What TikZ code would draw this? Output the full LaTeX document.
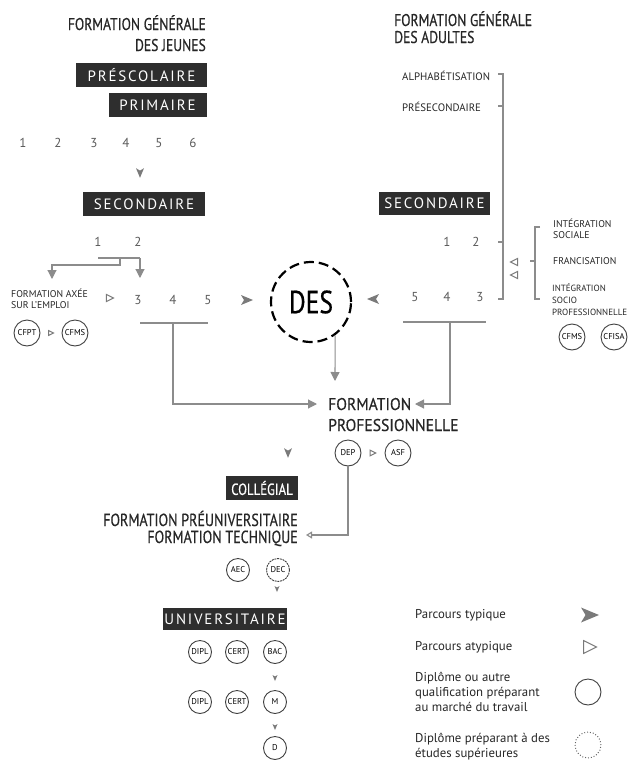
\documentclass[tikz,border=0pt]{standalone}
\usepackage{fontspec}
\setmainfont{PT Sans}
\newfontfamily\condfont[FakeStretch=0.8,FakeBold=0.5]{PT Sans}
\newfontfamily\proffont[FakeStretch=0.92,FakeBold=0.5]{PT Sans}
\newfontfamily\spacedfont[LetterSpace=12]{PT Sans}
\usetikzlibrary{arrows.meta}
\definecolor{boxgray}{HTML}{2E2E2E}
\definecolor{titlegray}{HTML}{262626}
\definecolor{numgray}{HTML}{5A5A5A}
\definecolor{linegray}{HTML}{8C8C8C}
\definecolor{arrowgray}{HTML}{7A7A7A}

\begin{document}
\begin{tikzpicture}[x=1pt,y=-1pt,
	level/.style={fill=boxgray,text=white,inner sep=0pt,font=\spacedfont\fontsize{15}{15}\selectfont},
	title/.style={font=\condfont\fontsize{17}{21}\selectfont,text=titlegray,inner sep=0pt},
	num/.style={font=\fontsize{13}{13}\selectfont,text=numgray,inner sep=0pt},
	small/.style={font=\fontsize{9.8}{11}\selectfont,text=titlegray,inner sep=0pt,align=left},
	legend/.style={font=\fontsize{12.8}{15}\selectfont,text=titlegray,inner sep=0pt,align=left},
	dip/.style={circle,draw=black!75,line width=0.9pt,minimum size=26pt,inner sep=0pt,font=\fontsize{8.5}{8.5}\selectfont},
	link/.style={draw=linegray,line width=1.1pt},
	typtip/.style={-{Triangle[length=9pt,width=9pt]}},
	opentip/.style={-{Triangle[open,length=6pt,width=7pt]}},
	typ/.pic={\fill[arrowgray] (-6,-5) -- (6,0) -- (-6,5) -- (-3,0) -- cycle;},
	atyp/.pic={\draw[arrowgray,line width=1pt,line join=miter] (-4,-4) -- (4,0) -- (-4,4) -- cycle;}
]
	\useasboundingbox (0,0) rectangle (628,766);

	% jeunes
	\node[title,align=right,anchor=base east] (jeunes) at (206,51) {FORMATION GÉNÉRALE\\DES JEUNES};
	\node[level,minimum width=131pt,minimum height=24pt] (presco) at (141.5,75) {PRÉSCOLAIRE};
	\node[level,minimum width=98pt,minimum height=24pt] (prim) at (157.5,105) {PRIMAIRE};
	\foreach \x [count=\i] in {23,58,94,126,159,193} {
		\node[num] (p\i) at (\x,143) {\i};
	}
	\pic[rotate=-90,scale=0.8] at (140,173) {typ};
	\node[level,minimum width=122pt,minimum height=24pt] (secj) at (144,204) {SECONDAIRE};
	\node[num] (sj1) at (98,242) {1};
	\node[num] (sj2) at (138,242) {2};
	\coordinate (bjl) at (98,258);
	\coordinate (bjm) at (120,258);
	\coordinate (bjr) at (140,258);
	\coordinate (in3) at (140,278);
	\coordinate (inaxe) at (52,279);
	\draw[link] (bjl) -- (bjr);
	\draw[link,typtip] (bjr) -- (in3);
	\draw[link,typtip] (bjm) -- (120,265) -| (inaxe);
	\node[small,anchor=base west] (axe) at (11,308) {FORMATION AXÉE\\SUR L'EMPLOI};
	\pic[scale=0.9] at (110,298) {atyp};
	\foreach \x [count=\i from 3] in {138,173,208} {
		\node[num] (sj\i) at (\x,300) {\i};
	}
	\node[dip] (cfpt) at (27,333) {CFPT};
	\node[dip] (cfmsj) at (75,333) {CFMS};
	\pic[scale=0.6] at (51,333) {atyp};

	% DES
	\pic at (247,300) {typ};
	\node[circle,draw=black,line width=2.2pt,dash pattern=on 10pt off 5pt,minimum size=80pt,inner sep=0pt,font=\condfont\fontsize{32}{32}\selectfont] (des) at (311,302) {DES};
	\pic[rotate=180] at (373,299) {typ};

	% adultes
	\node[title,align=left,anchor=base west,font=\condfont\fontsize{17}{17}\selectfont] (adultes) at (394,43) {FORMATION GÉNÉRALE\\DES ADULTES};
	\node[small,font=\fontsize{10.8}{12}\selectfont,anchor=west] (alpha) at (402,76) {ALPHABÉTISATION};
	\node[small,font=\fontsize{10.8}{12}\selectfont,anchor=west] (preseco) at (402,107) {PRÉSECONDAIRE};
	\coordinate (atop) at (498,74);
	\coordinate (abot) at (498,299);
	\draw[link,line width=1.6pt] (atop) -- (503,74) -- (503,299) -- (abot);
	\draw[link] (498,106) -- (503,106);
	\draw[link] (498,242) -- (503,242);
	\node[level,minimum width=111pt,minimum height=23pt] (seca) at (434.5,203.5) {SECONDAIRE};
	\node[num] (sa1) at (447,242) {1};
	\node[num] (sa2) at (476,242) {2};
	\foreach \x/\t in {415/5,447/4,480/3} {
		\node[num] (sa\t) at (\x,297) {\t};
	}
	\pic[rotate=180,scale=0.9] at (514,262) {atyp};
	\pic[rotate=180,scale=0.9] at (514,275) {atyp};
	\draw[link] (540,227) -- (535,227) -- (535,299) -- (540,299);
	\draw[link] (530,261) -- (535,261);
	\node[small,anchor=base west] (intsoc) at (553,238) {INTÉGRATION\\SOCIALE};
	\node[small,anchor=west] (franc) at (553,261) {FRANCISATION};
	\node[small,anchor=base west,font=\fontsize{9}{12}\selectfont] (intpro) at (552,315) {INTÉGRATION\\SOCIO\\PROFESSIONNELLE};
	\node[dip] (cfmsa) at (572,337) {CFMS};
	\node[dip] (cfisa) at (614,337) {CFISA};

	% formation professionnelle
	\node[title,font=\proffont\fontsize{17}{21}\selectfont,align=left,anchor=base west] (fp) at (328,431) {FORMATION\\PROFESSIONNELLE};
	\coordinate (bsl) at (140,323);
	\coordinate (bsr) at (208,323);
	\coordinate (bal) at (403,322);
	\coordinate (bar) at (486,322);
	\coordinate (fpl) at (317,404);
	\coordinate (fpr) at (415,404);
	\coordinate (fptop) at (335,381);
	\draw[link] (bsl) -- (bsr);
	\draw[link,typtip] (173,323) |- (fpl);
	\draw[link] (bal) -- (bar);
	\draw[link,typtip] (450,322) |- (fpr);
	\draw[link,typtip] (des.-54) -- (fptop);
	\node[dip] (dep) at (348,453) {DEP};
	\node[dip] (asf) at (398,453) {ASF};
	\pic[scale=0.7] at (373,453) {atyp};
	\pic[rotate=-90,scale=0.8] at (288,453) {typ};

	% collegial
	\node[level,font=\condfont\fontsize{16}{16}\selectfont,minimum width=72pt,minimum height=24pt] (coll) at (262,488) {COLLÉGIAL};
	\node[title,font=\condfont\fontsize{17.5}{17}\selectfont,align=right,anchor=base east] (preu) at (298,543) {FORMATION PRÉUNIVERSITAIRE\\FORMATION TECHNIQUE};
	\coordinate (intech) at (306,535);
	\draw[link,opentip] (dep.south) |- (intech);
	\node[dip,minimum size=23pt] (aec) at (238,570) {AEC};
	\node[dip,minimum size=23pt,dash pattern=on 2pt off 0.8pt] (dec) at (278,570) {DEC};
	\pic[rotate=-90,scale=0.5] at (277,589) {typ};

	% universitaire
	\node[level,minimum width=124pt,minimum height=22pt] (univ) at (225,619) {UNIVERSITAIRE};
	\foreach \t/\x in {DIPL/200,CERT/237,BAC/275} {
		\node[dip,minimum size=23pt] (b\t) at (\x,652) {\t};
	}
	\pic[rotate=-90,scale=0.5] at (275,678) {typ};
	\foreach \t/\x in {DIPL/200,CERT/237,M/275} {
		\node[dip,minimum size=23pt] (m\t) at (\x,702) {\t};
	}
	\pic[rotate=-90,scale=0.5] at (275,727) {typ};
	\node[dip,minimum size=23pt] (doc) at (275,748) {D};

	% legende
	\node[legend,anchor=west] (ltyp) at (415,615) {Parcours typique};
	\pic[scale=1.5] at (590,615) {typ};
	\node[legend,anchor=west] (latyp) at (415,647) {Parcours atypique};
	\pic[scale=1.6] at (590,647) {atyp};
	\node[legend,anchor=base west] (ldip) at (415,711) {Diplôme ou autre\\qualification préparant\\au marché du travail};
	\node[dip] (ldipc) at (588,692) {};
	\node[legend,anchor=base west] (lsup) at (415,757) {Diplôme préparant à des\\études supérieures};
	\node[dip,draw=black!60,dotted,line width=1pt] (lsupc) at (588,745) {};
\end{tikzpicture}
\end{document}
